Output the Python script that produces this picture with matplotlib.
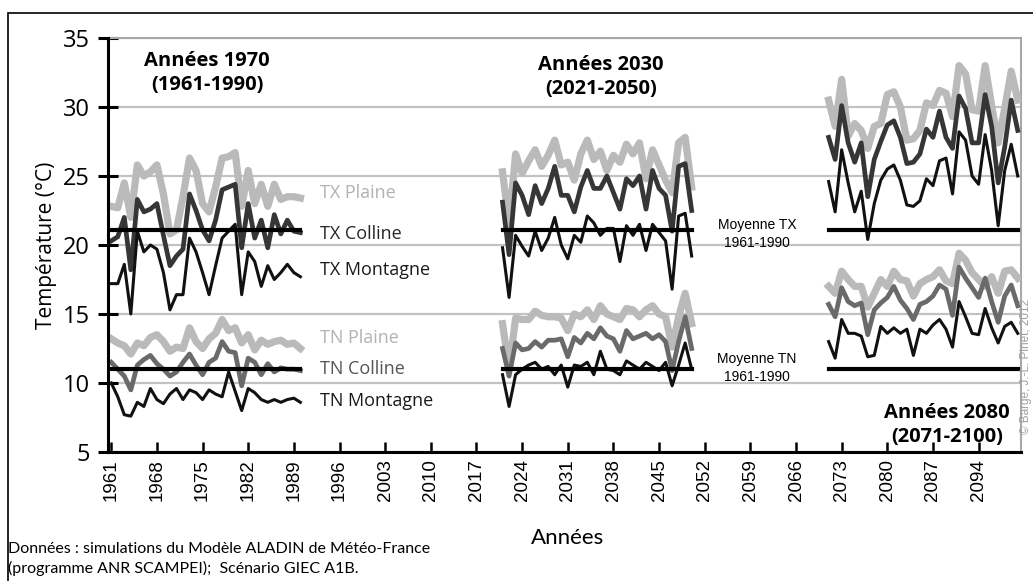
import matplotlib
matplotlib.use("Agg")
import matplotlib.pyplot as plt
from matplotlib.patches import Rectangle

# periods (years on the category axis)
years_p1 = list(range(1961, 1991))
years_p2 = list(range(2021, 2051))
years_p3 = list(range(2071, 2101))

# 1961-1990
tx_plaine_p1 = [22.8, 22.7, 24.5, 22.0, 25.8, 25.0, 25.3, 25.8, 23.7, 20.8, 21.1, 23.5, 26.3, 25.4, 23.0,
                22.4, 24.2, 26.3, 26.4, 26.7, 22.8, 25.4, 23.0, 24.4, 22.8, 24.4, 23.3, 23.5, 23.5, 23.4]
tx_colline_p1 = [20.3, 20.6, 22.0, 18.2, 23.3, 22.4, 22.6, 23.0, 20.7, 18.5, 19.2, 19.7, 23.7, 22.5, 21.1,
                 20.3, 21.8, 24.0, 24.2, 24.4, 19.8, 23.0, 20.5, 21.8, 19.8, 22.2, 20.8, 21.8, 21.0, 20.9]
tx_montagne_p1 = [17.2, 17.2, 18.6, 15.0, 21.0, 19.5, 20.0, 19.7, 18.0, 15.3, 16.4, 16.4, 20.5, 19.5, 18.0,
                  16.4, 18.5, 20.5, 21.0, 21.5, 16.4, 19.5, 18.8, 17.0, 18.5, 17.5, 18.0, 18.6, 18.0, 17.7]
tn_plaine_p1 = [13.2, 12.9, 12.7, 12.1, 12.9, 12.7, 13.3, 13.5, 13.0, 12.3, 12.6, 12.5, 14.0, 13.0, 12.5,
                13.2, 13.6, 14.6, 13.8, 14.0, 12.9, 13.5, 12.4, 13.1, 12.8, 13.0, 13.1, 12.8, 12.9, 12.5]
tn_colline_p1 = [11.5, 11.0, 10.5, 9.5, 11.3, 11.7, 12.0, 11.4, 11.0, 10.5, 10.8, 11.5, 12.1, 11.3, 10.6,
                 11.5, 11.8, 13.0, 12.3, 12.2, 9.8, 11.8, 11.5, 10.6, 11.4, 10.8, 11.1, 11.0, 11.0, 10.9]
tn_montagne_p1 = [10.0, 9.0, 7.7, 7.6, 8.6, 8.3, 9.6, 8.8, 8.5, 9.2, 9.6, 8.8, 9.5, 9.3, 8.8,
                  9.5, 9.2, 9.0, 10.8, 9.4, 8.0, 9.6, 9.3, 8.8, 8.6, 8.8, 8.6, 8.8, 8.9, 8.6]

# 2021-2050
tx_plaine_p2 = [25.3, 21.5, 26.6, 25.2, 26.1, 26.9, 25.7, 26.5, 27.6, 25.8, 26.0, 24.7, 26.6, 27.6, 26.2,
                26.8, 25.4, 26.5, 26.0, 27.3, 26.6, 27.4, 24.8, 26.9, 25.8, 24.7, 23.8, 27.4, 27.8, 24.2]
tx_colline_p2 = [23.1, 19.3, 24.5, 23.6, 22.2, 24.3, 23.0, 24.1, 25.7, 23.6, 23.6, 22.4, 24.2, 25.4, 24.1,
                 24.1, 25.0, 23.8, 22.6, 24.8, 24.3, 25.0, 22.6, 25.4, 24.1, 23.6, 21.0, 25.7, 25.9, 22.5]
tx_montagne_p2 = [19.8, 16.2, 20.7, 19.9, 19.2, 21.0, 19.6, 20.5, 22.0, 20.0, 19.0, 20.7, 20.2, 22.1, 21.6,
                  20.7, 21.2, 21.2, 18.8, 21.4, 20.7, 21.5, 19.6, 21.5, 20.9, 20.3, 16.8, 22.1, 22.3, 19.2]
tn_plaine_p2 = [14.3, 11.0, 14.7, 14.6, 14.6, 15.2, 14.9, 14.8, 14.8, 14.7, 13.8, 15.0, 14.8, 15.3, 14.6,
                15.6, 15.0, 14.8, 14.6, 15.4, 15.3, 14.8, 15.3, 15.6, 15.0, 14.8, 12.6, 14.8, 16.5, 14.3]
tn_colline_p2 = [12.5, 10.5, 12.9, 12.4, 12.5, 13.0, 12.6, 13.1, 13.1, 13.2, 11.9, 13.3, 12.9, 13.6, 13.2,
                 14.0, 13.4, 13.2, 12.3, 13.8, 13.2, 13.4, 13.6, 13.2, 13.5, 13.0, 10.9, 13.0, 14.8, 12.5]
tn_montagne_p2 = [10.6, 8.3, 10.6, 11.0, 11.3, 11.5, 11.0, 11.2, 10.6, 11.3, 9.7, 11.3, 11.2, 11.5, 10.6,
                  12.3, 11.0, 10.9, 10.6, 11.6, 11.3, 11.0, 11.5, 11.2, 10.9, 11.5, 9.8, 11.3, 12.9, 11.0]

# 2071-2100
tx_plaine_p3 = [30.5, 28.6, 32.0, 27.9, 28.8, 28.3, 27.0, 28.6, 28.8, 30.9, 31.1, 30.0, 27.6, 27.7, 28.3,
                30.3, 30.1, 31.2, 31.0, 29.3, 33.0, 32.4, 29.8, 29.7, 33.0, 30.1, 27.4, 29.9, 32.6, 30.5]
tx_colline_p3 = [27.8, 26.2, 30.1, 27.4, 26.0, 27.4, 23.5, 26.2, 27.5, 28.7, 29.0, 27.8, 25.9, 26.0, 26.6,
                 28.4, 27.8, 29.7, 27.8, 27.0, 30.8, 29.9, 27.4, 27.4, 30.9, 28.6, 24.5, 27.1, 30.5, 28.3]
tx_montagne_p3 = [24.6, 22.4, 26.9, 24.5, 22.4, 23.9, 20.4, 23.0, 24.7, 25.5, 25.8, 24.7, 22.9, 22.8, 23.2,
                  24.8, 24.3, 26.1, 26.3, 23.7, 28.2, 27.6, 25.0, 24.4, 28.0, 25.4, 21.4, 25.4, 27.3, 25.0]
tn_plaine_p3 = [17.0, 16.5, 18.1, 17.5, 17.0, 17.0, 15.5, 16.5, 17.5, 17.0, 18.1, 17.5, 17.4, 16.3, 17.2,
                17.5, 17.7, 18.2, 17.4, 17.2, 19.4, 18.9, 18.0, 17.5, 17.0, 17.7, 16.5, 18.1, 18.2, 17.6]
tn_colline_p3 = [15.7, 14.8, 16.9, 15.9, 15.6, 15.8, 13.5, 15.3, 15.8, 16.2, 17.0, 16.0, 15.4, 14.6, 15.7,
                 15.9, 16.3, 17.1, 16.8, 14.9, 18.4, 17.6, 16.9, 16.2, 17.6, 15.9, 14.4, 16.3, 17.1, 15.6]
tn_montagne_p3 = [13.0, 11.8, 14.6, 13.6, 13.6, 13.4, 11.9, 12.0, 14.1, 13.6, 14.0, 13.6, 13.9, 12.0, 13.9,
                  13.6, 14.2, 14.6, 13.9, 12.6, 15.9, 14.8, 13.6, 13.5, 15.4, 14.0, 12.9, 14.1, 14.4, 13.6]

# 1961-1990 means
moyenne_tx = 21.1
moyenne_tn = 11.0

xtick_years = list(range(1961, 2100, 7))
yticks = [5, 10, 15, 20, 25, 30, 35]

W, H = 1033, 581
fig = plt.figure(figsize=(W / 100, H / 100), dpi=100)
ax = fig.add_axes([108 / W, 1 - 452 / H, (1021 - 108) / W, (452 - 38) / H])

c_plaine = "#bababa"
c_tx_colline = "#363636"
c_tn_colline = "#6a6a6a"
c_montagne = "#111111"

periods = [
    (years_p1, tx_plaine_p1, tx_colline_p1, tx_montagne_p1, tn_plaine_p1, tn_colline_p1, tn_montagne_p1),
    (years_p2, tx_plaine_p2, tx_colline_p2, tx_montagne_p2, tn_plaine_p2, tn_colline_p2, tn_montagne_p2),
    (years_p3, tx_plaine_p3, tx_colline_p3, tx_montagne_p3, tn_plaine_p3, tn_colline_p3, tn_montagne_p3),
]
for yrs, txp, txc, txm, tnp, tnc, tnm in periods:
    ax.plot(yrs, txp, color=c_plaine, lw=5.2, zorder=3, solid_joinstyle="round")
    ax.plot(yrs, tnp, color=c_plaine, lw=5.2, zorder=3, solid_joinstyle="round")
    ax.plot(yrs, txc, color=c_tx_colline, lw=3.4, zorder=4)
    ax.plot(yrs, tnc, color=c_tn_colline, lw=3.4, zorder=4)
    ax.plot(yrs, txm, color=c_montagne, lw=2.2, zorder=5)
    ax.plot(yrs, tnm, color=c_montagne, lw=2.2, zorder=5)
    ax.plot([yrs[0], yrs[-1]], [moyenne_tx, moyenne_tx], color="black", lw=3.0, zorder=6)
    ax.plot([yrs[0], yrs[-1]], [moyenne_tn, moyenne_tn], color="black", lw=3.0, zorder=6)

ax.set_xlim(1960.5, 2100.5)
ax.set_ylim(5, 35)
ax.set_yticks(yticks)
ax.set_yticklabels([str(v) for v in yticks], fontsize=17, family="Open Sans")
ax.set_xticks(xtick_years)
ax.set_xticklabels([str(v) for v in xtick_years], rotation=90, fontsize=13.5, family="Liberation Sans")
ax.tick_params(axis="y", direction="inout", length=14, width=2.2, pad=6)
ax.tick_params(axis="x", direction="in", length=7, width=1.8, pad=5)
ax.grid(axis="y", color="#c2c2c2", lw=1.6, zorder=0)
ax.set_axisbelow(True)
for s in ["left", "bottom"]:
    ax.spines[s].set_linewidth(2.2)
    ax.spines[s].set_color("black")
for s in ["top", "right"]:
    ax.spines[s].set_linewidth(1.5)
    ax.spines[s].set_color("#a8a8a8")
ax.spines["left"].set_zorder(7)
ax.spines["bottom"].set_zorder(7)

ax.set_ylabel("Température (°C)", fontsize=15, family="Open Sans", labelpad=4)
fig.text(568 / W, 1 - 538 / H, "Années", fontsize=16, family="Lato", ha="center", va="center")

# period titles
bold = dict(fontsize=14.5, family="Open Sans", fontweight="bold", ha="center", va="center", linespacing=1.25)
fig.text(207 / W, 1 - 73 / H, "Années 1970\n(1961-1990)", **bold)
fig.text(601 / W, 1 - 77 / H, "Années 2030\n(2021-2050)", **bold)
fig.text(947 / W, 1 - 425 / H, "Années 2080\n(2071-2100)", **bold)

# series labels
lab = dict(fontsize=13, family="Open Sans", ha="left", va="center")
fig.text(320 / W, 1 - 193 / H, "TX Plaine", color="#b2b2b2", **lab)
fig.text(320 / W, 1 - 234 / H, "TX Colline", color="#262626", **lab)
fig.text(320 / W, 1 - 270 / H, "TX Montagne", color="#1a1a1a", **lab)
fig.text(320 / W, 1 - 338 / H, "TN Plaine", color="#b2b2b2", **lab)
fig.text(320 / W, 1 - 369 / H, "TN Colline", color="#555555", **lab)
fig.text(320 / W, 1 - 401 / H, "TN Montagne", color="#1a1a1a", **lab)

small = dict(fontsize=10, family="Liberation Sans", ha="center", va="center", linespacing=1.3)
fig.text(757 / W, 1 - 234 / H, "Moyenne TX\n1961-1990", **small)
fig.text(757 / W, 1 - 368 / H, "Moyenne TN\n1961-1990", **small)

fig.text(1026 / W, 1 - 366 / H, "© Barge, J.-L. Pinet, 2012", rotation=90, fontsize=8.5,
         color="#a0a0a0", ha="center", va="center", family="Liberation Sans")

fig.text(8 / W, 1 - 559 / H,
         "Données : simulations du Modèle ALADIN de Météo-France\n(programme ANR SCAMPEI);  Scénario GIEC A1B.",
         fontsize=11.5, family="Lato", ha="left", va="center", linespacing=1.45)

# outer frame
fig.patches.append(Rectangle((8 / W, -0.05), 1.2, 1 - 13 / H + 0.05, transform=fig.transFigure,
                             fill=False, edgecolor="black", lw=1.2))

fig.savefig("out.png", dpi=100)
